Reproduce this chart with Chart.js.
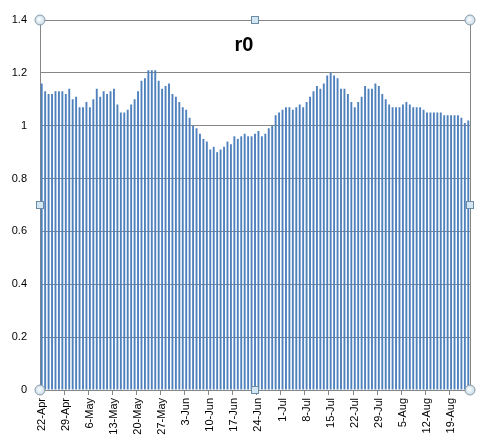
<!DOCTYPE html>
<html>
<head>
<meta charset="utf-8">
<script src="https://cdn.jsdelivr.net/npm/chart.js@4"></script>
<style>
  html, body { margin: 0; padding: 0; background: #fff; }
</style>
</head>
<body>
<canvas id="r0Chart" width="482" height="437"></canvas>
<script>
const chartTitle = 'r0';
const firstDay = '2013-04-22';
const monthNames = ['Jan', 'Feb', 'Mar', 'Apr', 'May', 'Jun', 'Jul', 'Aug', 'Sep', 'Oct', 'Nov', 'Dec'];

// weekly labels shown on the date axis
const tickLabels = ['22-Apr', '29-Apr', '6-May', '13-May', '20-May', '27-May', '3-Jun', '10-Jun',
  '17-Jun', '24-Jun', '1-Jul', '8-Jul', '15-Jul', '22-Jul', '29-Jul', '5-Aug', '12-Aug', '19-Aug'];

const yTicks = [0, 0.2, 0.4, 0.6, 0.8, 1, 1.2, 1.4];

// daily r0, 22-Apr .. 24-Aug
const r0Values = [
  1.16, 1.13, 1.12, 1.12, 1.13, 1.13, 1.13, 1.12, 1.14, 1.10,
  1.11, 1.07, 1.07, 1.09, 1.07, 1.10, 1.14, 1.11, 1.13, 1.12,
  1.13, 1.14, 1.08, 1.05, 1.05, 1.06, 1.08, 1.10, 1.13, 1.17,
  1.18, 1.21, 1.21, 1.21, 1.17, 1.14, 1.15, 1.16, 1.12, 1.11,
  1.09, 1.07, 1.06, 1.03, 1.00, 0.99, 0.97, 0.95, 0.94, 0.91,
  0.92, 0.90, 0.91, 0.92, 0.94, 0.93, 0.96, 0.95, 0.96, 0.97,
  0.96, 0.96, 0.97, 0.98, 0.96, 0.97, 0.99, 1.00, 1.04, 1.05,
  1.06, 1.07, 1.07, 1.06, 1.07, 1.08, 1.07, 1.09, 1.11, 1.13,
  1.15, 1.14, 1.16, 1.19, 1.20, 1.19, 1.18, 1.14, 1.14, 1.12,
  1.09, 1.07, 1.09, 1.11, 1.15, 1.14, 1.14, 1.16, 1.15, 1.12,
  1.10, 1.08, 1.07, 1.07, 1.07, 1.08, 1.09, 1.08, 1.07, 1.07,
  1.07, 1.06, 1.05, 1.05, 1.05, 1.05, 1.05, 1.04, 1.04, 1.04,
  1.04, 1.04, 1.03, 1.01, 1.02
];

// one category per day
const days = r0Values.map((v, i) => {
  const d = new Date(firstDay + 'T00:00:00');
  d.setDate(d.getDate() + i);
  return d.getDate() + '-' + monthNames[d.getMonth()];
});

const axisGrey = '#868686';

// title inside the plot, plot frame and the selection handles
const plotFrame = {
  id: 'plotFrame',
  afterDatasetsDraw(chart) {
    const a = chart.chartArea;
    const c = chart.ctx;
    c.save();
    c.strokeStyle = axisGrey;
    c.lineWidth = 1;
    c.beginPath();
    c.moveTo(Math.round(a.right) + 0.5, a.top);
    c.lineTo(Math.round(a.right) + 0.5, a.bottom);
    c.stroke();
    c.restore();
  },
  afterDraw(chart) {
    const a = chart.chartArea;
    const c = chart.ctx;
    c.save();
    c.fillStyle = '#000';
    c.font = 'bold 20px "Liberation Sans", Arial, sans-serif';
    c.textAlign = 'center';
    c.textBaseline = 'alphabetic';
    c.fillText(chartTitle, 244, 51);

    const midX = (a.left + a.right) / 2;
    const midY = (a.top + a.bottom) / 2;
    const corners = [[a.left, a.top], [a.right, a.top], [a.left, a.bottom], [a.right, a.bottom]];
    corners.forEach(p => {
      const g = c.createRadialGradient(p[0] - 1, p[1] - 1, 0, p[0], p[1], 5);
      g.addColorStop(0, '#ffffff');
      g.addColorStop(1, '#c9dde9');
      c.fillStyle = g;
      c.strokeStyle = '#8a9aa6';
      c.beginPath();
      c.arc(p[0], p[1], 5, 0, Math.PI * 2);
      c.fill();
      c.stroke();
    });
    const sides = [[midX, a.top], [midX, a.bottom], [a.left, midY], [a.right, midY]];
    sides.forEach(p => {
      c.fillStyle = '#d2e6f3';
      c.strokeStyle = '#6d8ca3';
      c.fillRect(Math.round(p[0]) - 3.5, Math.round(p[1]) - 3.5, 7, 7);
      c.strokeRect(Math.round(p[0]) - 3.5, Math.round(p[1]) - 3.5, 7, 7);
    });
    c.restore();
  }
};

new Chart(document.getElementById('r0Chart').getContext('2d'), {
  type: 'bar',
  data: {
    labels: days,
    datasets: [{
      label: chartTitle,
      data: r0Values,
      backgroundColor: '#4f81bd',
      borderWidth: 0,
      barPercentage: 0.55,
      categoryPercentage: 1.0
    }]
  },
  options: {
    responsive: false,
    animation: false,
    devicePixelRatio: 1,
    layout: { padding: { left: 0, top: 20, right: 12, bottom: 0 } },
    plugins: {
      legend: { display: false },
      title: { display: false },
      tooltip: { enabled: false }
    },
    scales: {
      x: {
        offset: true,
        afterFit: s => { s.height = 47; s.paddingLeft = 0; s.paddingRight = 0; },
        border: { color: axisGrey, width: 1 },
        grid: {
          offset: true,
          drawOnChartArea: false,
          drawTicks: true,
          tickLength: 5,
          color: ctx => (ctx.index % 7 === 0 ? axisGrey : 'rgba(0,0,0,0)')
        },
        ticks: {
          autoSkip: false,
          maxRotation: 90,
          minRotation: 90,
          padding: 3,
          color: '#000',
          font: { family: '"Liberation Sans", Arial, sans-serif', size: 11 },
          callback: (val, i) => (i % 7 === 0 ? tickLabels[i / 7] : '')
        }
      },
      y: {
        min: 0,
        max: 1.4,
        afterFit: s => { s.width = 40; s.paddingTop = 0; s.paddingBottom = 0; },
        afterBuildTicks: s => { s.ticks = yTicks.map(v => ({ value: v })); },
        border: { color: axisGrey, width: 1 },
        grid: { color: axisGrey, drawTicks: false },
        ticks: {
          padding: 13,
          color: '#000',
          font: { family: '"Liberation Sans", Arial, sans-serif', size: 11 },
          callback: v => String(Math.round(v * 10) / 10)
        }
      }
    }
  },
  plugins: [plotFrame]
});
</script>
</body>
</html>
